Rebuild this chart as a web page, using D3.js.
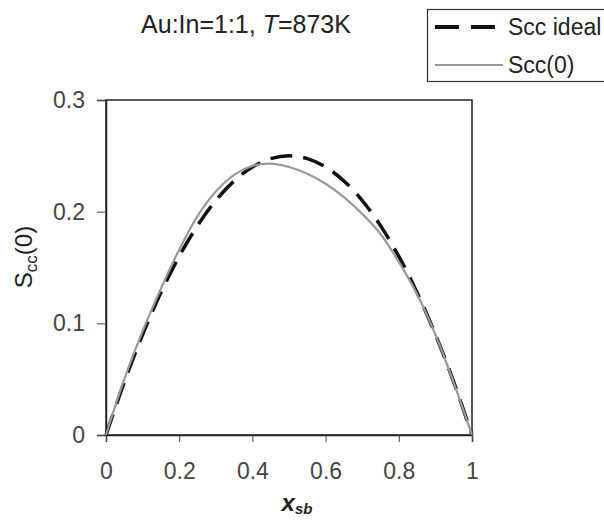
<!DOCTYPE html>
<html>
<head>
<meta charset="utf-8">
<script src="https://cdn.jsdelivr.net/npm/d3@7"></script>
<style>
  body { margin: 0; background: #fff; }
  svg { font-family: "Liberation Sans", Arial, sans-serif; }
</style>
</head>
<body>
<div id="chart"></div>
<script>
const xValues = [0, 0.05, 0.1, 0.15, 0.2, 0.25, 0.3, 0.35, 0.4, 0.45, 0.5,
  0.55, 0.6, 0.65, 0.7, 0.75, 0.8, 0.85, 0.9, 0.95, 1];
const sccIdeal = [0, 0.0475, 0.09, 0.1275, 0.16, 0.1875, 0.21, 0.2275, 0.24, 0.2475, 0.25,
  0.2475, 0.24, 0.2275, 0.21, 0.1875, 0.16, 0.1275, 0.09, 0.0475, 0];
const scc0 = [0, 0.05, 0.093, 0.131, 0.166, 0.196, 0.218, 0.233, 0.241, 0.243, 0.240,
  0.234, 0.225, 0.213, 0.198, 0.180, 0.155, 0.126, 0.090, 0.047, 0];
const xTicks = [0, 0.2, 0.4, 0.6, 0.8, 1];
const yTicks = [0, 0.1, 0.2, 0.3];
const legendLabels = ["Scc ideal", "Scc(0)"];

const width = 604, height = 520;
const margin = { top: 100, right: 132, bottom: 85, left: 106 };
const plotW = width - margin.left - margin.right;
const plotH = height - margin.top - margin.bottom;

const svg = d3.select("#chart")
  .append("svg")
  .attr("width", width)
  .attr("height", height);

const chart = svg.append("g")
  .attr("transform", `translate(${margin.left},${margin.top})`);

const x = d3.scaleLinear().domain([0, 1]).range([0, plotW]);
const y = d3.scaleLinear().domain([0, 0.3]).range([plotH, 0]);

// frame
chart.append("rect")
  .attr("width", plotW)
  .attr("height", plotH)
  .attr("fill", "none")
  .attr("stroke", "#222")
  .attr("stroke-width", 1.5);

const xAxis = chart.append("g")
  .attr("transform", `translate(0,${plotH})`)
  .call(d3.axisBottom(x).tickValues(xTicks).tickSize(7).tickPadding(21)
    .tickFormat(d => d === 0 || d === 1 ? d3.format("d")(d) : d3.format(".1f")(d)));

const yAxis = chart.append("g")
  .call(d3.axisLeft(y).tickValues(yTicks).tickSize(9).tickPadding(12)
    .tickFormat(d => d === 0 ? "0" : d3.format(".1f")(d)));

[xAxis, yAxis].forEach(a => {
  a.select(".domain").attr("stroke", "#222").attr("stroke-width", 1.5);
  a.selectAll(".tick line").attr("stroke", "#444");
  a.selectAll(".tick text").attr("fill", "#444").style("font-size", "23px");
});

const line = d3.line()
  .x((d, i) => x(xValues[i]))
  .y(d => y(d))
  .curve(d3.curveCatmullRom);

chart.append("path")
  .datum(sccIdeal)
  .attr("fill", "none")
  .attr("stroke", "#111")
  .attr("stroke-width", 3.5)
  .attr("stroke-dasharray", "22,11")
  .attr("d", line);

chart.append("path")
  .datum(scc0)
  .attr("fill", "none")
  .attr("stroke", "#999")
  .attr("stroke-width", 2.2)
  .attr("d", line);

// title
const title = svg.append("text")
  .attr("x", 246)
  .attr("y", 33)
  .attr("text-anchor", "middle")
  .attr("fill", "#222")
  .style("font-size", "25px");
title.append("tspan").text("Au:In=1:1, ");
title.append("tspan").style("font-style", "italic").text("T");
title.append("tspan").text("=873K");

// axis titles
const yTitle = svg.append("text")
  .attr("transform", "rotate(-90)")
  .attr("x", -257)
  .attr("y", 32)
  .attr("text-anchor", "middle")
  .attr("fill", "#222")
  .style("font-size", "24px");
yTitle.append("tspan").text("S");
yTitle.append("tspan").attr("dy", 5).style("font-size", "17px").text("cc");
yTitle.append("tspan").attr("dy", -5).text("(0)");

const xTitle = svg.append("text")
  .attr("x", 297)
  .attr("y", 511)
  .attr("text-anchor", "middle")
  .attr("fill", "#222")
  .style("font-size", "24px")
  .style("font-style", "italic")
  .style("font-weight", "bold");
xTitle.append("tspan").text("x");
xTitle.append("tspan").attr("dy", 3).style("font-size", "15px").text("sb");

// legend
const legend = svg.append("g");
legend.append("rect")
  .attr("x", 427.5)
  .attr("y", 9.5)
  .attr("width", 200)
  .attr("height", 72)
  .attr("fill", "#fff")
  .attr("stroke", "#333")
  .attr("stroke-width", 1.2);

const legendStyles = [
  { stroke: "#111", width: 4, dash: "24,12", x2: 498 },
  { stroke: "#999", width: 1.8, dash: null, x2: 503 }
];
legendLabels.forEach((label, i) => {
  const ly = 27 + i * 38;
  legend.append("line")
    .attr("x1", 435).attr("x2", legendStyles[i].x2)
    .attr("y1", ly).attr("y2", ly)
    .attr("stroke", legendStyles[i].stroke)
    .attr("stroke-width", legendStyles[i].width)
    .attr("stroke-dasharray", legendStyles[i].dash);
  legend.append("text")
    .attr("x", 508)
    .attr("y", ly + 8)
    .attr("fill", "#222")
    .style("font-size", "23px")
    .text(label);
});
</script>
</body>
</html>
